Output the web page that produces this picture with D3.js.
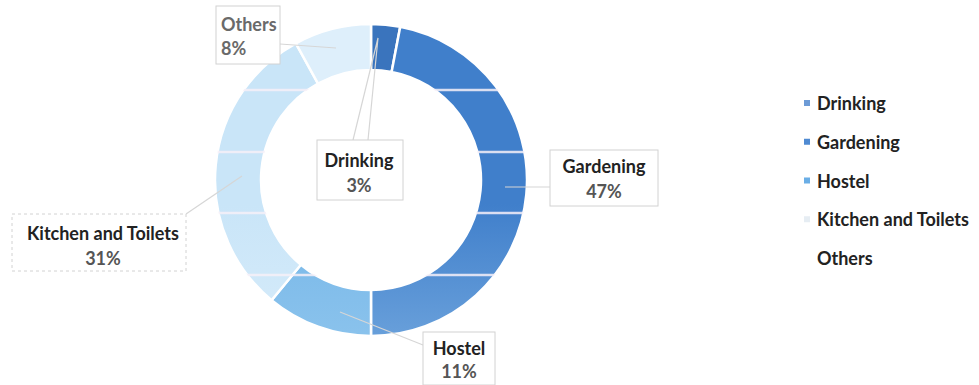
<!DOCTYPE html>
<html>
  <head>
    <meta charset="utf-8" />
    <style>
    body {
      margin: 0;
      background: #fff;
    }
    text {
      font-family: Lato, "Open Sans", sans-serif;
      font-weight: bold;
    }
    </style>
    <script src="https://cdn.jsdelivr.net/npm/d3@7"></script>
  </head>
  <body>
    <script>
    var width = 979, height = 385;

    // data
    var categories = ["Drinking", "Gardening", "Hostel", "Kitchen and Toilets", "Others"];
    var shares = [3, 47, 11, 31, 8];
    var pctLabels = ["3%", "47%", "11%", "31%", "8%"];

    // gradient stops per slice (top colour, bottom colour)
    var topColors = ["#3a74bd", "#407fcb", "#75b6e8", "#c9e5f8", "#deeffb"];
    var bottomColors = ["#6194d0", "#9ecbef", "#a6d3f2", "#e6f3fc", "#e8f4fc"];
    var legendColors = ["#6d9bd6", "#4f8ad2", "#6aaee6", "#e6edf3", "#ffffff"];

    var cx = 371, cy = 180, rOut = 156, rIn = 110;

    var svg = d3.select("body").append("svg")
        .attr("width", width)
        .attr("height", height);

    var defs = svg.append("defs");
    categories.forEach(function (c, i) {
      var g = defs.append("linearGradient")
          .attr("id", "grad" + i)
          .attr("gradientUnits", "userSpaceOnUse")
          .attr("x1", 0).attr("y1", cy - rOut)
          .attr("x2", 0).attr("y2", cy + rOut);
      g.append("stop").attr("offset", "0%").attr("stop-color", topColors[i]);
      g.append("stop").attr("offset", "100%").attr("stop-color", bottomColors[i]);
    });

    var pie = d3.pie().sort(null).value(function (d) { return d; });
    var arcs = pie(shares);
    var arc = d3.arc().innerRadius(rIn).outerRadius(rOut);

    defs.append("clipPath").attr("id", "ring")
      .append("path")
        .attr("transform", "translate(" + cx + "," + cy + ")")
        .attr("d", d3.arc().innerRadius(rIn).outerRadius(rOut).startAngle(0).endAngle(2 * Math.PI)());

    var donut = svg.append("g").attr("transform", "translate(" + cx + "," + cy + ")");
    donut.selectAll("path.slice")
      .data(arcs)
      .enter().append("path")
        .attr("class", "slice")
        .attr("d", arc)
        .attr("fill", function (d, i) { return "url(#grad" + i + ")"; })
        .attr("stroke", "#fff")
        .attr("stroke-width", 2.5);

    // light horizontal bands seen across the ring
    var bands = [90, 152, 213, 275];
    svg.append("g").attr("clip-path", "url(#ring)")
      .selectAll("line")
      .data(bands)
      .enter().append("line")
        .attr("x1", cx - rOut).attr("x2", cx + rOut)
        .attr("y1", function (d) { return d; })
        .attr("y2", function (d) { return d; })
        .attr("stroke", "#f6f0f8")
        .attr("stroke-width", 2.5)
        .attr("opacity", 0.85);

    // data labels: box + leader line
    var labelBoxes = [
      { x: 317, y: 140, w: 86, h: 60, tx: 359, lead: [[353, 140], [378, 38], [368, 140]] },
      { x: 550, y: 150, w: 108, h: 56, tx: 604, lead: [[505, 187], [550, 187]] },
      { x: 423, y: 332, w: 72, h: 53, tx: 459, lead: [[340, 312], [423, 345]] },
      { x: 12, y: 214, w: 174, h: 57, tx: 103, lead: [[186, 214], [242, 176]] },
      { x: 216, y: 6, w: 64, h: 58, tx: 221, lead: [[280, 44], [336, 48]] }
    ];
    var textY = [[167, 192], [173, 198], [355, 378], [240, 265], [31, 55]];

    var lbl = svg.append("g");
    labelBoxes.forEach(function (b, i) {
      var others = i == 4;
      lbl.append("path")
        .attr("d", d3.line()(b.lead))
        .attr("fill", "none")
        .attr("stroke", "#d6d6d6")
        .attr("stroke-width", 1.2);
      lbl.append("rect")
        .attr("x", b.x).attr("y", b.y)
        .attr("width", b.w).attr("height", b.h)
        .attr("fill", "#fff")
        .attr("stroke", "#d2d2d2")
        .attr("stroke-width", 1)
        .attr("stroke-dasharray", i == 3 ? "3,3" : null);
      lbl.append("text")
        .attr("x", b.tx).attr("y", textY[i][0])
        .attr("text-anchor", others ? "start" : "middle")
        .attr("font-size", 18)
        .attr("font-weight", others ? "normal" : "bold")
        .attr("fill", others ? "#6a6a6a" : "#222")
        .text(categories[i]);
      lbl.append("text")
        .attr("x", b.tx).attr("y", textY[i][1])
        .attr("text-anchor", others ? "start" : "middle")
        .attr("font-size", 18)
        .attr("font-weight", others ? "normal" : "bold")
        .attr("fill", others ? "#6a6a6a" : "#555")
        .text(pctLabels[i]);
    });

    // legend
    var ly = d3.scalePoint().domain(categories).range([104, 259]);
    var legend = svg.append("g");
    legend.selectAll("rect")
      .data(categories)
      .enter().append("rect")
        .attr("x", 804)
        .attr("y", function (d) { return ly(d) - 4; })
        .attr("width", 6).attr("height", 6)
        .attr("fill", function (d, i) { return legendColors[i]; });
    legend.selectAll("text")
      .data(categories)
      .enter().append("text")
        .attr("x", 817)
        .attr("y", function (d) { return ly(d) + 6; })
        .attr("font-size", 18)
        .attr("fill", "#222")
        .text(function (d) { return d; });
    </script>
  </body>
</html>
